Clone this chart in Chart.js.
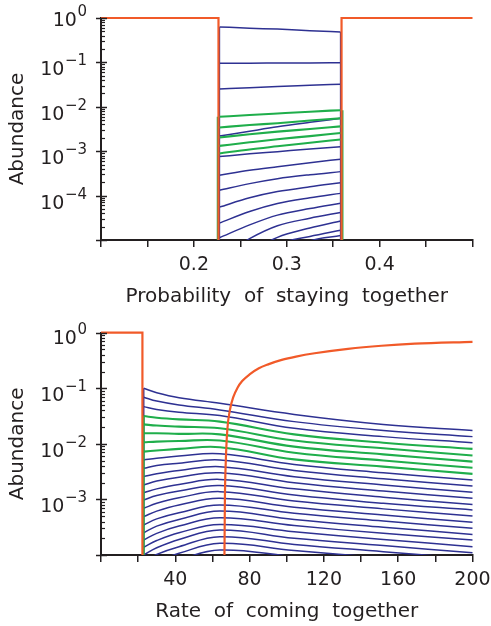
<!DOCTYPE html>
<html>
<head>
<meta charset="utf-8">
<script src="https://cdn.jsdelivr.net/npm/chart.js@4.4.1/dist/chart.umd.min.js"></script>
<style>
  html, body { margin:0; padding:0; background:#fff; }
  #wrap { position:relative; width:491px; height:626px; }
  canvas { position:absolute; left:0; }
  #top { top:0; }
  #bottom { top:313px; }
</style>
</head>
<body>
<div id="wrap">
  <canvas id="top" width="491" height="313"></canvas>
  <canvas id="bottom" width="491" height="313"></canvas>
</div>
<script>
// ── values; abundances kept as log10 exponents ──

// top panel: probability of staying together
const topX = [0.2275, 0.26, 0.29, 0.325, 0.358];
const topLogs = [
  [-0.20, -0.23, -0.25, -0.285, -0.315],
  [-1.02, -1.018, -1.015, -1.012, -1.01],
  [-1.60, -1.57, -1.54, -1.515, -1.49],
  [-2.225, -2.185, -2.15, -2.11, -2.076],
  [-2.466, -2.41, -2.37, -2.31, -2.26],
  [-2.66, -2.55, -2.45, -2.35, -2.26],
  [-2.69, -2.62, -2.56, -2.50, -2.44],
  [-2.88, -2.80, -2.73, -2.66, -2.59],
  [-3.05, -2.96, -2.89, -2.81, -2.735],
  [-3.12, -3.06, -3.01, -2.95, -2.90],
  [-3.54, -3.43, -3.35, -3.26, -3.18],
  [-3.88, -3.73, -3.62, -3.53, -3.46],
  [-4.26, -4.05, -3.91, -3.80, -3.71],
  [-4.62, -4.36, -4.18, -4.05, -3.95],
  [-4.95, -4.66, -4.44, -4.29, -4.17],
  [-5.40, -4.97, -4.68, -4.51, -4.38],
  [-5.90, -5.30, -4.94, -4.73, -4.57],
  [-6.20, -5.55, -5.10, -4.92, -4.78],
  [-6.60, -5.90, -5.40, -5.02, -4.90]
];
const topGreen = [3, 4, 6, 7, 8];
const topStepX = [0.1, 0.2265, 0.2265, 0.359, 0.359, 0.5];
const topStepLogs = [0, 0, -9, -9, 0, 0];
const topXLabels = [0.2, 0.3, 0.4];
const topYLabels = [0, -1, -2, -3, -4];

// bottom panel: rate of coming together
const botX = [23.0, 30, 42, 64, 104, 152, 200];
const botLogs = [
  [-1.00, -1.08, -1.17, -1.27, -1.47, -1.65, -1.76],
  [-1.16, -1.23, -1.30, -1.39, -1.60, -1.76, -1.87],
  [-1.33, -1.38, -1.43, -1.49, -1.72, -1.87, -1.98],
  [-1.50, -1.53, -1.56, -1.60, -1.83, -1.98, -2.09],
  [-1.65, -1.67, -1.69, -1.72, -1.94, -2.08, -2.21],
  [-1.81, -1.81, -1.82, -1.83, -2.05, -2.19, -2.32],
  [-1.97, -1.96, -1.95, -1.94, -2.16, -2.30, -2.43],
  [-2.14, -2.12, -2.09, -2.06, -2.28, -2.41, -2.54],
  [-2.29, -2.26, -2.22, -2.18, -2.37, -2.52, -2.65],
  [-2.44, -2.39, -2.35, -2.29, -2.48, -2.63, -2.76],
  [-2.59, -2.54, -2.48, -2.41, -2.59, -2.74, -2.87],
  [-2.74, -2.67, -2.60, -2.52, -2.70, -2.85, -2.98],
  [-2.88, -2.81, -2.73, -2.64, -2.81, -2.96, -3.09],
  [-3.01, -2.93, -2.85, -2.75, -2.92, -3.07, -3.19],
  [-3.16, -3.07, -2.97, -2.86, -3.03, -3.17, -3.30],
  [-3.31, -3.21, -3.10, -2.98, -3.14, -3.28, -3.41],
  [-3.46, -3.35, -3.24, -3.10, -3.25, -3.39, -3.52],
  [-3.60, -3.48, -3.36, -3.21, -3.36, -3.50, -3.63],
  [-3.73, -3.61, -3.48, -3.33, -3.47, -3.61, -3.73],
  [-3.86, -3.74, -3.60, -3.45, -3.58, -3.72, -3.85],
  [-4.00, -3.87, -3.72, -3.55, -3.70, -3.83, -3.96],
  [-4.13, -3.99, -3.85, -3.67, -3.81, -3.94, -4.07],
  [-4.26, -4.12, -3.97, -3.79, -3.92, -4.05, -4.18],
  [-4.39, -4.25, -4.09, -3.91, -4.03, -4.16, -4.29],
  [-4.52, -4.37, -4.21, -4.02, -4.14, -4.26, -4.40]
];
const botGreen = [3, 4, 5, 6, 7];
const botStepX = [0, 22.3, 22.3];
const botStepLogs = [0, 0, -9];
const botRiseX = [66.4, 66.7, 67.2, 68.0, 69.4, 71.2, 73.5, 76, 80, 85, 90, 97.3, 105, 115, 133, 151, 169, 200];
const botRiseLogs = [-4.3, -3.0, -2.3, -1.75, -1.39, -1.16, -0.99, -0.87, -0.75, -0.64, -0.57, -0.49, -0.43, -0.37, -0.29, -0.235, -0.198, -0.165];
const botXLabels = [40, 80, 120, 160, 200];
const botYLabels = [0, -1, -2, -3];

// ── drawing ──
const FONT = '"DejaVu Sans", sans-serif';
const INK = '#231f20', BLUE = '#2e3192', GREEN = '#1fae4b', ORANGE = '#f15a29';

const pts = (xs, logs) => xs.map((x, j) => ({ x, y: Math.pow(10, logs[j]) }));

function line(data, color, width, order, curve) {
  return {
    data, borderColor: color, borderWidth: width, pointRadius: 0, fill: false, order,
    tension: curve === 'spline' ? 0.4 : 0,
    cubicInterpolationMode: curve === 'monotone' ? 'monotone' : 'default',
    clip: { left: 4, top: 4, right: 4, bottom: 0 }
  };
}

// log axis: minor ticks inside, major ticks across, labels as 10 with superscript
const logAxis = {
  id: 'logAxis',
  afterDraw(chart, args, o) {
    const ctx = chart.ctx, ys = chart.scales.y, left = chart.chartArea.left;
    ctx.save();
    ctx.strokeStyle = INK;
    ctx.lineWidth = 1.2;
    for (let k = o.minExp; k < o.maxExp; k++) {
      for (let m = 2; m <= 9; m++) {
        const py = Math.round(ys.getPixelForValue(m * Math.pow(10, k))) + 0.5;
        ctx.beginPath(); ctx.moveTo(left, py); ctx.lineTo(left + 4, py); ctx.stroke();
      }
    }
    ctx.lineWidth = 1.5;
    for (let k = o.minExp; k <= o.maxExp; k++) {
      const py = Math.round(ys.getPixelForValue(Math.pow(10, k))) + 0.5;
      ctx.beginPath(); ctx.moveTo(left - 5, py); ctx.lineTo(left + 6, py); ctx.stroke();
    }
    ctx.fillStyle = INK;
    ctx.textAlign = 'right';
    ctx.textBaseline = 'alphabetic';
    o.labels.forEach(e => {
      const py = ys.getPixelForValue(Math.pow(10, e)) + (e === 0 ? o.firstShift : 0);
      const sup = e === 0 ? '0' : '\u2212' + (-e);
      ctx.font = '15px ' + FONT;
      const w = ctx.measureText(sup).width;
      ctx.fillText(sup, 87, py + 3);
      ctx.font = '19px ' + FONT;
      ctx.fillText('10', 87 - w - 0.5, py + 13);
    });
    ctx.restore();
  }
};

function makeChart(id, datasets, xOpts, yMinExp, yLabels, firstShift, title, titlePad, padTop, xHeight) {
  new Chart(document.getElementById(id), {
    type: 'line',
    data: { datasets },
    options: {
      responsive: false, animation: false, devicePixelRatio: 1,
      layout: { padding: { left: 0, right: 18.5, top: padTop, bottom: 0 } },
      plugins: { legend: { display: false }, tooltip: { enabled: false },
        logAxis: { minExp: yMinExp, maxExp: 0, labels: yLabels, firstShift } },
      scales: {
        x: Object.assign({
          type: 'linear',
          border: { display: true, color: INK, width: 2 },
          grid: { display: true, drawOnChartArea: false, drawTicks: true, tickLength: 7, color: INK, lineWidth: 1.5 },
          title: { display: true, text: title, color: INK, font: { family: FONT, size: 20 }, padding: { top: 0, bottom: titlePad } },
          // fixed height, and no extra inset for the last tick label
          afterFit: s => { s.height = xHeight; s.paddingLeft = 0; s.paddingRight = 0; }
        }, xOpts),
        y: {
          type: 'logarithmic', min: Math.pow(10, yMinExp), max: 1,
          border: { display: true, color: INK, width: 2 },
          grid: { display: true, drawOnChartArea: false, drawTicks: false },
          ticks: { display: false },
          title: { display: true, text: 'Abundance', color: INK, font: { family: FONT, size: 20 }, padding: { top: 6, bottom: 0 } },
          afterFit: s => { s.width = 101; }
        }
      }
    },
    plugins: [logAxis]
  });
}

// top panel
const topSets = [line(pts(topStepX, topStepLogs), ORANGE, 2.2, 0, 'straight')];
topLogs.forEach((lg, i) => {
  const g = topGreen.includes(i);
  topSets.push(line(pts(topX, lg), g ? GREEN : BLUE, g ? 2.1 : 1.5, g ? 1 : 2, 'monotone'));
});
topSets.push(line(pts([0.2275, 0.2275], [-9, topLogs[0][0]]), BLUE, 1.5, 2, 'straight'));
topSets.push(line(pts([0.358, 0.358], [-9, topLogs[0][4]]), BLUE, 1.5, 2, 'straight'));
topSets.push(line(pts([0.2257, 0.2257], [-9, topLogs[3][0]]), GREEN, 2, 1, 'straight'));
topSets.push(line(pts([0.3600, 0.3600], [-9, topLogs[3][4]]), GREEN, 2, 1, 'straight'));

makeChart('top', topSets, {
  min: 0.1, max: 0.5,
  ticks: {
    stepSize: 0.05, autoSkip: false, maxRotation: 0, padding: 7, color: INK,
    font: { family: FONT, size: 19 },
    callback: v => topXLabels.some(t => Math.abs(t - v) < 1e-6) ? v.toFixed(1) : ''
  }
}, -5, topYLabels, -5, 'Probability  of  staying  together', 4.5, 18, 73);

// bottom panel
const botSets = [
  line(pts(botStepX, botStepLogs), ORANGE, 2.2, 0, 'straight'),
  line(pts(botRiseX, botRiseLogs), ORANGE, 2.2, 0, 'monotone')
];
botLogs.forEach((lg, i) => {
  const g = botGreen.includes(i);
  botSets.push(line(pts(botX, lg), g ? GREEN : BLUE, g ? 2.1 : 1.5, g ? 1 : 2, 'spline'));
});
botSets.push(line(pts([botX[0], botX[0]], [-9, botLogs[0][0]]), BLUE, 1.5, 2, 'straight'));
botSets.push(line(pts([botX[0], botX[0]], [-9, botLogs[3][0]]), GREEN, 2, 1, 'straight'));

makeChart('bottom', botSets, {
  min: 0, max: 200,
  ticks: {
    stepSize: 20, autoSkip: false, maxRotation: 0, padding: 7, color: INK,
    font: { family: FONT, size: 19 },
    callback: v => botXLabels.includes(v) ? String(v) : ''
  }
}, -4, botYLabels, -1.5, 'Rate  of  coming  together', 2.5, 19.7, 71);
</script>
</body>
</html>
